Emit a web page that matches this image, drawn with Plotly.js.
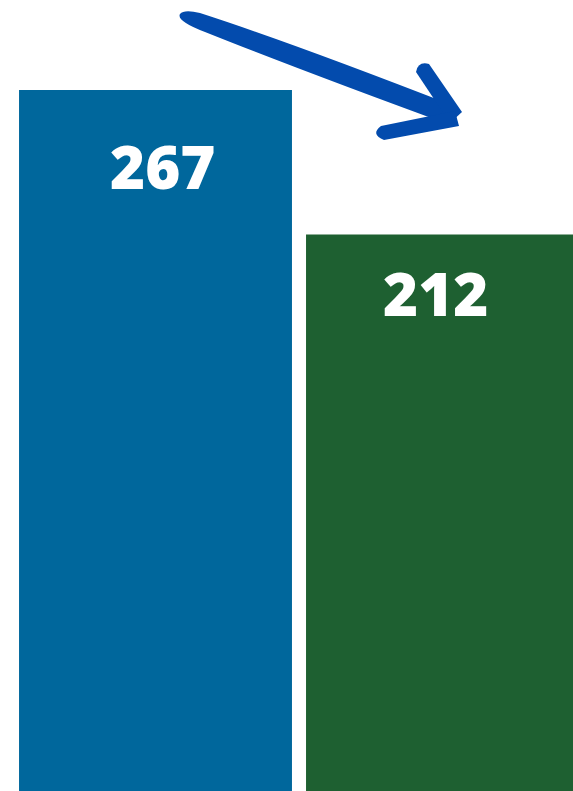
<!DOCTYPE html>
<html>
<head>
<meta charset="utf-8">
<script src="https://cdn.plot.ly/plotly-3.0.1.min.js"></script>
<style>
html,body{margin:0;padding:0;background:#fff;}
#chart{width:573px;height:791px;}
</style>
</head>
<body>
<div id="chart"></div>
<script>
// Data
const categories = [0, 1];
const values = [267, 212];
const labels = ["267", "212"];
const barColors = ["#00679C", "#1E6031"];

// Convert pixel coords (of the 573x791 canvas) to paper coords for decorative arrow
const W = 573, H = 791;
function pathFromPixels(cmds) {
  return cmds.map(c => {
    if (c[0] === 'Z') return 'Z';
    const op = c[0];
    const pts = [];
    for (let i = 1; i < c.length; i += 2) {
      pts.push((c[i] / W).toFixed(5) + ',' + (1 - c[i + 1] / H).toFixed(5));
    }
    return op + ' ' + pts.join(' ');
  }).join(' ');
}
const arrowColor = "#034BAD";
const shaft = pathFromPixels([
  ['M', 180, 14], ['Q', 184, 9, 200, 13], ['Q', 290, 42, 457, 107], ['L', 453, 126],
  ['Q', 300, 70, 205, 32], ['Q', 176, 21, 180, 14], ['Z']
]);
const barbUp = pathFromPixels([
  ['M', 416, 72], ['Q', 418, 61, 429, 64], ['L', 462, 112], ['L', 450, 123], ['Z']
]);
const barbLow = pathFromPixels([
  ['M', 381, 126], ['L', 455, 111], ['L', 459, 126], ['L', 384, 140], ['Q', 370, 134, 381, 126], ['Z']
]);

const trace = {
  type: 'bar',
  x: categories,
  y: values,
  width: 0.951,
  marker: {color: barColors, line: {width: 0}},
  hoverinfo: 'none'
};

const labelShift = [-33, -16];
const annotations = categories.map((c, i) => ({
  x: c + (i === 0 ? 0.025 : -0.024),
  y: values[i],
  xref: 'x', yref: 'y',
  text: labels[i],
  showarrow: false,
  yanchor: 'top',
  yshift: labelShift[i],
  font: {family: 'Open Sans, sans-serif', size: 60, color: '#ffffff', weight: 800}
}));

const layout = {
  width: W, height: H,
  margin: {l: 0, r: 0, t: 0, b: 0},
  paper_bgcolor: '#ffffff',
  plot_bgcolor: '#ffffff',
  showlegend: false,
  xaxis: {range: [-0.5418, 1.4547], visible: false, fixedrange: true},
  yaxis: {range: [0, 301.28], visible: false, fixedrange: true},
  annotations: annotations,
  shapes: [shaft, barbUp, barbLow].map(p => ({
    type: 'path', xref: 'paper', yref: 'paper', path: p,
    fillcolor: arrowColor, line: {width: 0}
  }))
};

Plotly.newPlot('chart', [trace], layout, {displayModeBar: false, staticPlot: true});
</script>
</body>
</html>
